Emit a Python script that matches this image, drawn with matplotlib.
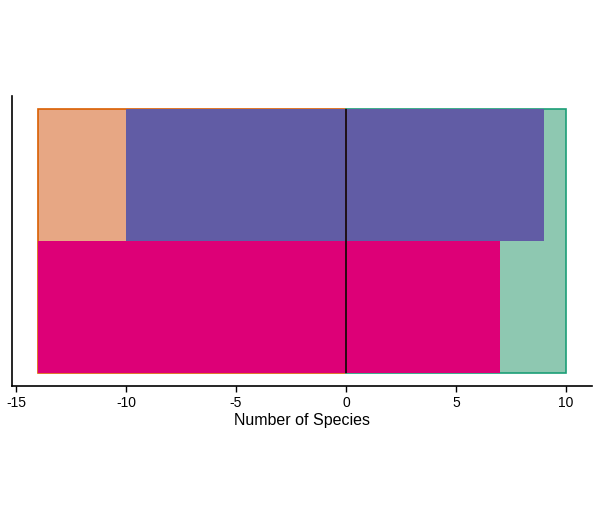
import matplotlib.pyplot as plt

plt.rcParams['font.family'] = ['Liberation Sans', 'DejaVu Sans']

# totals (outlined background boxes)
total_left = -14
total_right = 10
# bands: top (purple), bottom (magenta)
bands = ['top', 'bottom']
band_y = [1, 0]
left_vals = [-10, -14]
right_vals = [9, 7]
band_colors = ['#615ca5', '#dd0077']

fig = plt.figure(figsize=(6, 5.22), dpi=100)
ax = fig.add_axes([0.02, 0.2605, 0.9667, 0.5555])

# background boxes
ax.barh(0, total_left, height=2, align='edge', color='#e7a784',
        edgecolor='#d95f02', linewidth=1.2)
ax.barh(0, total_right, height=2, align='edge', color='#8ec8b1',
        edgecolor='#1b9e77', linewidth=1.2)

for y, lv, rv, c in zip(band_y, left_vals, right_vals, band_colors):
    ax.barh(y, lv, height=1, align='edge', color=c, linewidth=0)
    ax.barh(y, rv, height=1, align='edge', color=c, linewidth=0)

ax.vlines(0, 0, 2, color='#1a0a0a', linewidth=1.3)

ax.set_xlim(-15.18, 11.18)
ax.set_ylim(-0.1, 2.1)
ax.set_xticks([-15, -10, -5, 0, 5, 10])
ax.set_xticklabels(['-15', '-10', '-5', '0', '5', '10'], fontsize=10)
ax.set_yticks([])
ax.set_xlabel('Number of Species', fontsize=11.5, labelpad=2)
ax.spines['top'].set_visible(False)
ax.spines['right'].set_visible(False)
ax.spines['left'].set_linewidth(1.2)
ax.spines['bottom'].set_linewidth(1.2)
ax.tick_params(axis='x', length=4, width=1)

fig.savefig('out.png', dpi=100)
